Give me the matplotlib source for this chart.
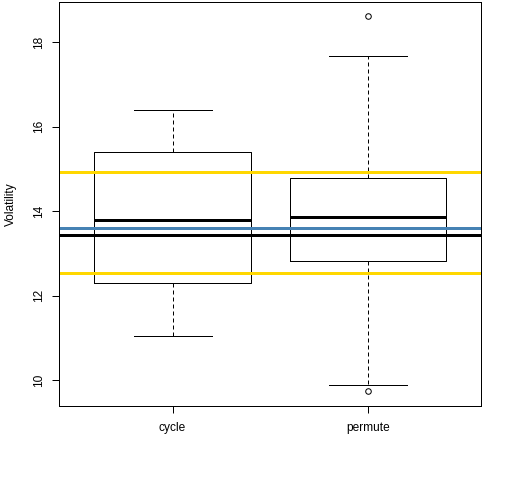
import matplotlib
matplotlib.use("Agg")
import matplotlib.pyplot as plt

plt.rcParams['font.family'] = ['Liberation Sans', 'DejaVu Sans']

# box statistics
groups = ['cycle', 'permute']
q1 = [12.30, 12.82]
medians = [13.79, 13.86]
q3 = [15.40, 14.78]
whislo = [11.04, 9.88]
whishi = [16.39, 17.67]
outliers = [[], [18.62, 9.74]]

# reference lines
gold_levels = [14.92, 12.53]
blue_level = 13.60
black_level = 13.43

px = 0.72  # one pixel in points at dpi 100

stats = []
for i, name in enumerate(groups):
    stats.append(dict(label=name, q1=q1[i], med=medians[i], q3=q3[i],
                      whislo=whislo[i], whishi=whishi[i], fliers=outliers[i]))

fig = plt.figure(figsize=(5.12, 4.8), dpi=100)
ax = fig.add_axes([59.3 / 512, 1 - 406.3 / 480, 422 / 512, 404.3 / 480])

ax.bxp(stats, positions=[1, 2], widths=0.8, showcaps=True,
       boxprops=dict(color='black', linewidth=px),
       medianprops=dict(color='black', linewidth=3 * px, solid_capstyle='butt'),
       whiskerprops=dict(color='black', linewidth=px, linestyle=(0, (4, 3))),
       capprops=dict(color='black', linewidth=px),
       flierprops=dict(marker='o', markersize=4, markerfacecolor='none',
                       markeredgecolor='black', markeredgewidth=px),
       capwidths=0.4)

for lvl in gold_levels:
    ax.axhline(lvl, color='#FFD700', linewidth=3 * px)
ax.axhline(blue_level, color='#4682B4', linewidth=3 * px)
ax.axhline(black_level, color='black', linewidth=3 * px)

ax.set_xlim(0.42, 2.58)
ax.set_ylim(9.385, 18.95)
ax.set_yticks([10, 12, 14, 16, 18])
ax.set_xticks([1, 2])
ax.set_xticklabels(groups)
for lab in ax.get_yticklabels():
    lab.set_rotation(90)
    lab.set_va('center')
ax.tick_params(axis='both', length=5, width=px, labelsize=8.6, color='black')
ax.tick_params(axis='x', pad=6.5)
ax.tick_params(axis='y', pad=5)
ax.set_ylabel('Volatility', fontsize=8.6, labelpad=12)
for s in ax.spines.values():
    s.set_linewidth(px)

fig.savefig('out.png', dpi=100)
